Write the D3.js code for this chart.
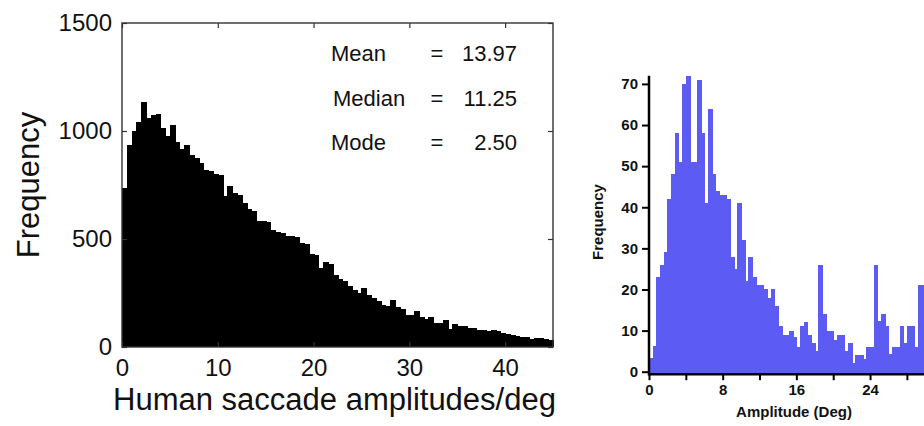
<!DOCTYPE html>
<html>
<head>
<meta charset="utf-8">
<script src="https://cdn.jsdelivr.net/npm/d3@7"></script>
<style>
	html, body { margin: 0; padding: 0; background: #ffffff; }
	svg { display: block; }
</style>
</head>
<body>
<script>
//****************************************************************************************************************************//
// Data

// left: human saccade amplitudes, 0.5 deg bins from 0 to 45
var leftBinWidth = 0.5;
var leftCounts = [
	735, 935, 1000, 1043, 1133, 1060, 1075, 1080, 1015, 975,
	1030, 950, 915, 935, 890, 875, 850, 820, 815, 800,
	795, 700, 745, 711, 705, 668, 640, 630, 585, 585,
	580, 540, 534, 530, 514, 512, 508, 480, 478, 432,
	428, 364, 395, 385, 335, 315, 305, 282, 262, 250,
	272, 240, 225, 212, 195, 192, 218, 185, 178, 148,
	150, 168, 140, 128, 140, 112, 110, 125, 82, 106,
	97, 95, 88, 86, 80, 78, 72, 79, 76, 63,
	60, 56, 50, 48, 47, 35, 42, 40, 36, 34
];
var leftXTicks = [0, 10, 20, 30, 40];
var leftYTicks = [0, 500, 1000, 1500];
var statLabels = ["Mean", "Median", "Mode"];
var statValues = ["13.97", "11.25", "2.50"];

// right: amplitude histogram, 0.4 deg bins
var rightBinWidth = 0.4;
var rightCounts = [
	3.3, 6.3, 23, 26, 29, 42, 48, 58, 51, 70,
	72, 51, 51, 71, 58, 41, 64, 48, 44, 43,
	43, 42, 28, 25, 41, 32, 22, 28, 23, 21,
	21, 20, 18, 20, 16, 11, 9, 9, 10, 8.5,
	6, 11, 12, 9, 7, 5, 26, 14, 10, 10,
	7.7, 9, 9, 5, 7, 2.2, 4, 4, 3, 6,
	6, 26, 12.4, 14, 11, 4.3, 6, 6, 11, 7,
	11, 11, 6, 21, 21
];
var rightXMajor = [0, 8, 16, 24];
var rightXMinor = [4, 12, 20, 28];
var rightYTicks = [0, 10, 20, 30, 40, 50, 60, 70];

var width = 924, height = 426;

var canvas = d3.select("body").append("svg")
				.attr("width", width)
				.attr("height", height);

//****************************************************************************************************************************//
// Left histogram

var leftPane = {x0 : 122, x1 : 553, y0 : 23, y1 : 347};
var leftFont = "'Liberation Sans', Arial, Helvetica, sans-serif";

var xL = d3.scaleLinear()
			.domain([0, 45])
			.range([leftPane.x0, leftPane.x1]);

var yL = d3.scaleLinear()
			.domain([0, 1500])
			.range([leftPane.y1, leftPane.y0]);

var leftGraph = canvas.append("g");

leftGraph.selectAll(".leftBar")
		.data(leftCounts)
		.enter().append("rect")
		.attr("class", "leftBar")
		.attr("x", function(d, i){ return xL(i*leftBinWidth); })
		.attr("y", function(d){ return yL(d); })
		.attr("width", function(d, i){ return xL((i+1)*leftBinWidth) - xL(i*leftBinWidth) + 1; })
		.attr("height", function(d){ return yL(0) - yL(d); })
		.attr("fill", "#000000")
		.attr("shape-rendering", "crispEdges");

// axes, ticks pointing inwards
leftGraph.append("g")
		.attr("transform", "translate(0," + leftPane.y1 + ")")
		.call(d3.axisBottom(xL).tickValues(leftXTicks).tickSize(-5).tickPadding(12).tickFormat(d3.format("d")));

leftGraph.append("g")
		.attr("transform", "translate(" + leftPane.x0 + ",0)")
		.call(d3.axisLeft(yL).tickValues(leftYTicks).tickSize(-5).tickPadding(10).tickFormat(d3.format("d")));

leftGraph.append("g")
		.attr("transform", "translate(0," + leftPane.y0 + ")")
		.call(d3.axisTop(xL).tickValues(leftXTicks).tickSize(-5).tickFormat(""));

leftGraph.append("g")
		.attr("transform", "translate(" + leftPane.x1 + ",0)")
		.call(d3.axisRight(yL).tickValues(leftYTicks).tickSize(-5).tickFormat(""));

leftGraph.selectAll(".domain").remove();
leftGraph.selectAll(".tick line")
		.attr("stroke", "#333333")
		.attr("stroke-width", 1.2);

leftGraph.selectAll(".tick text")
		.style("font-family", leftFont)
		.style("font-size", "24px")
		.attr("fill", "#111111");

leftGraph.append("rect")
		.attr("x", leftPane.x0)
		.attr("y", leftPane.y0)
		.attr("width", leftPane.x1 - leftPane.x0)
		.attr("height", leftPane.y1 - leftPane.y0)
		.attr("fill", "none")
		.attr("stroke", "#333333")
		.attr("stroke-width", 1.4);

leftGraph.append("text")
		.attr("x", (leftPane.x0 + leftPane.x1)/2 - 3)
		.attr("y", 410)
		.attr("text-anchor", "middle")
		.style("font-family", leftFont)
		.style("font-size", "31px")
		.attr("fill", "#111111")
		.text("Human saccade amplitudes/deg");

leftGraph.append("text")
		.attr("transform", "translate(39," + 185 + ") rotate(-90)")
		.attr("text-anchor", "middle")
		.style("font-family", leftFont)
		.style("font-size", "31px")
		.attr("fill", "#111111")
		.text("Frequency");

// stats block
var stats = leftGraph.append("g")
		.style("font-family", leftFont)
		.style("font-size", "22px")
		.attr("fill", "#111111");

statLabels.forEach(function(label, i){
	var yRow = 61 + i*44.5;
	stats.append("text").attr("x", label == "Median" ? 333 : 331).attr("y", yRow).text(label);
	stats.append("text").attr("x", 437).attr("y", yRow).attr("text-anchor", "middle").text("=");
	stats.append("text").attr("x", 517).attr("y", yRow).attr("text-anchor", "end").text(statValues[i]);
});

//****************************************************************************************************************************//
// Right histogram

var rightFont = "'Liberation Sans', Arial, Helvetica, sans-serif";
var rightColor = "#5c5cf4";

var xR = d3.scaleLinear()
			.domain([0, 30])
			.range([649, 925.3]);

var yR = d3.scaleLinear()
			.domain([0, 72])
			.range([371.7, 75.7]);

var rightBase = yR(0) + 2.5;

var rightGraph = canvas.append("g");

rightGraph.selectAll(".rightBar")
		.data(rightCounts)
		.enter().append("rect")
		.attr("class", "rightBar")
		.attr("x", function(d, i){ return xR(i*rightBinWidth); })
		.attr("y", function(d){ return yR(d); })
		.attr("width", function(d, i){ return xR((i+1)*rightBinWidth) - xR(i*rightBinWidth) + 1; })
		.attr("height", function(d){ return rightBase - yR(d); })
		.attr("fill", rightColor)
		.attr("shape-rendering", "crispEdges");

// y axis
rightGraph.append("g")
		.attr("transform", "translate(" + xR(0) + ",0)")
		.call(d3.axisLeft(yR).tickValues(rightYTicks).tickSize(7).tickSizeOuter(0).tickPadding(4));

// x axis, major and minor ticks
rightGraph.append("g")
		.attr("transform", "translate(0," + rightBase + ")")
		.call(d3.axisBottom(xR).tickValues(rightXMajor).tickSize(6).tickSizeOuter(0).tickPadding(4));

rightGraph.append("g")
		.attr("transform", "translate(0," + rightBase + ")")
		.call(d3.axisBottom(xR).tickValues(rightXMinor).tickSize(6).tickSizeOuter(0).tickFormat(""));

rightGraph.selectAll(".domain").remove();

rightGraph.append("line")
		.attr("x1", xR(0)).attr("x2", width)
		.attr("y1", rightBase).attr("y2", rightBase)
		.attr("stroke", "#000000")
		.attr("stroke-width", 2.5);

rightGraph.append("line")
		.attr("x1", xR(0)).attr("x2", xR(0))
		.attr("y1", yR(72)).attr("y2", rightBase + 1.2)
		.attr("stroke", "#000000")
		.attr("stroke-width", 2.5);

rightGraph.selectAll(".tick line")
		.attr("stroke", "#000000")
		.attr("stroke-width", 2);

rightGraph.selectAll(".tick text")
		.style("font-family", rightFont)
		.style("font-size", "15px")
		.style("font-weight", "bold")
		.attr("fill", "#111111");

rightGraph.append("text")
		.attr("x", 794)
		.attr("y", 417)
		.attr("text-anchor", "middle")
		.style("font-family", rightFont)
		.style("font-size", "15px")
		.style("font-weight", "bold")
		.attr("fill", "#111111")
		.text("Amplitude (Deg)");

rightGraph.append("text")
		.attr("transform", "translate(603,222) rotate(-90)")
		.attr("text-anchor", "middle")
		.style("font-family", rightFont)
		.style("font-size", "15px")
		.style("font-weight", "bold")
		.attr("fill", "#111111")
		.text("Frequency");
</script>
</body>
</html>
